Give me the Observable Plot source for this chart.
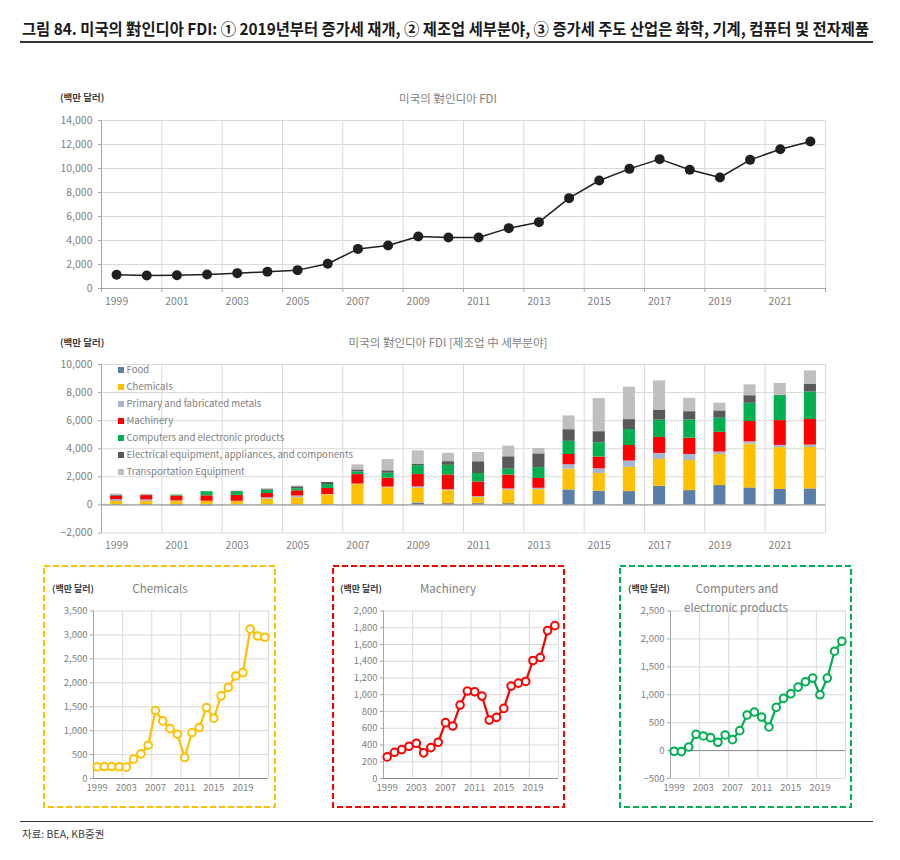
<!DOCTYPE html>
<html><head><meta charset="utf-8">
<script src="https://cdn.jsdelivr.net/npm/d3@7"></script>
<script src="https://cdn.jsdelivr.net/npm/@observablehq/plot@0.6"></script>
<style>
html,body{margin:0;padding:0;background:#fff;}
body{font-family:"Noto Sans CJK KR","Noto Sans",sans-serif;}
#root{position:relative;width:900px;height:860px;overflow:hidden;background:#fff;}
</style>
</head><body><div id="root"></div>
<script>
// ---------------- DATA ----------------
const years = [1999,2000,2001,2002,2003,2004,2005,2006,2007,2008,2009,2010,2011,2012,2013,2014,2015,2016,2017,2018,2019,2020,2021,2022];
const totalFDI = [1150,1080,1110,1170,1280,1390,1530,2060,3300,3580,4330,4250,4250,5030,5530,7530,9000,9970,10780,9890,9250,10720,11610,12250];
const food       = [0,0,0,0,0,0,0,20,30,20,140,90,90,90,20,1070,980,950,1330,1020,1380,1210,1100,1140];
const chemicals  = [244,250,250,244,237,404,515,696,1420,1204,1044,926,438,960,1065,1482,1260,1726,1907,2143,2213,3125,2978,2951];
const metals     = [120,100,40,20,20,100,120,20,40,50,100,70,70,90,100,310,330,450,430,430,170,160,160,170];
const machinery  = [258,313,345,385,421,306,369,433,667,627,877,1044,1036,984,698,730,837,1103,1139,1159,1409,1444,1766,1825];
const computers  = [-12,-18,65,292,262,232,149,280,196,357,637,690,601,423,774,935,1018,1137,1232,1298,1000,1298,1780,1958];
const electrical = [60,40,0,0,20,50,140,150,140,170,100,260,840,880,980,830,790,710,720,590,520,540,20,550];
const transport  = [100,60,-100,-120,40,60,50,0,360,800,950,600,660,760,380,980,2360,2310,2070,950,550,770,850,950];

const seriesNames = ["Food","Chemicals","Primary and fabricated metals","Machinery","Computers and electronic products","Electrical equipment, appliances, and components","Transportation Equipment"];
const seriesValues = [food, chemicals, metals, machinery, computers, electrical, transport];
const seriesColors = ["#5b7ea9","#ffc000","#a5b7d1","#ff0000","#00b050","#595959","#bfbfbf"];

const yTicksTotal  = [0,2000,4000,6000,8000,10000,12000,14000];
const yTicksSector = [-2000,0,2000,4000,6000,8000,10000];
const yTicksChem   = [0,500,1000,1500,2000,2500,3000,3500];
const yTicksMach   = [0,200,400,600,800,1000,1200,1400,1600,1800,2000];
const yTicksComp   = [-500,0,500,1000,1500,2000,2500];
const xLabelsWide  = [1999,2001,2003,2005,2007,2009,2011,2013,2015,2017,2019,2021];
const xLabelsSmall = [1999,2003,2007,2011,2015,2019];

const titleText = "그림 84. 미국의 對인디아 FDI: ① 2019년부터 증가세 재개, ② 제조업 세부분야, ③ 증가세 주도 산업은 화학, 기계, 컴퓨터 및 전자제품";
const unitText = "(백만 달러)";
const topTitle = "미국의 對인디아 FDI";
const midTitle = "미국의 對인디아 FDI [제조업 中 세부분야]";
const sourceText = "자료: BEA, KB증권";

// ---------------- HELPERS ----------------
const root = document.getElementById("root");
const FONT = "'Noto Sans CJK KR','Noto Sans',sans-serif";
const GRID = "#d9d9d9", AXIS = "#a6a6a6", LABEL = "#7f7f7f";

function txt(s, x, yc, {size = 10, color = "#404040", weight = 400, anchor = "start"} = {}) {
  const d = document.createElement("div");
  d.textContent = s;
  const lh = Math.round(size * 1.4);
  Object.assign(d.style, {position: "absolute", left: x + "px", top: (yc - lh / 2) + "px",
    fontSize: size + "px", lineHeight: lh + "px", color, fontWeight: weight, whiteSpace: "nowrap", fontFamily: FONT});
  if (anchor === "middle") d.style.transform = "translateX(-50%)";
  root.appendChild(d);
  return d;
}
function place(svg, x, y) {
  svg.style.position = "absolute"; svg.style.left = x + "px"; svg.style.top = y + "px";
  root.appendChild(svg);
}
const yearTable = years.map((year, i) => ({year, total: totalFDI[i]}));
const step = (n) => years.filter((y, i) => i % n === 0).map(y => y - 0.5).concat([years[years.length - 1] + 0.5]);
const xMin = years[0] - 0.5, xMax = years[years.length - 1] + 0.5;
const yearFmt = d => String(d);

// ---------------- TOP CHART ----------------
const topPlot = Plot.plot({
  width: 860, height: 205, marginLeft: 101, marginRight: 35, marginTop: 10, marginBottom: 27,
  style: {fontFamily: FONT, fontSize: "10px", background: "transparent", overflow: "visible"},
  x: {domain: [xMin, xMax], label: null},
  y: {domain: [yTicksTotal[0], yTicksTotal[yTicksTotal.length - 1]], label: null},
  marks: [
    Plot.gridY(yTicksTotal, {stroke: GRID, strokeOpacity: 1}),
    Plot.ruleX(step(2), {stroke: GRID}),
    Plot.ruleX([xMin], {stroke: AXIS}),
    Plot.ruleY([0], {stroke: AXIS}),
    Plot.axisY(yTicksTotal, {tickSize: 3, tickPadding: 6, tickFormat: d3.format(","), fill: LABEL, stroke: AXIS, fontSize: 10.5, label: null}),
    Plot.axisX(step(2), {tickSize: 4, tickFormat: () => "", stroke: AXIS, label: null}),
    Plot.axisX(xLabelsWide, {tickSize: 0, tickPadding: 9, tickFormat: yearFmt, fill: LABEL, fontSize: 10.5, label: null}),
    Plot.line(yearTable, {x: "year", y: "total", stroke: "#1f1f1f", strokeWidth: 1.5}),
    Plot.dot(yearTable, {x: "year", y: "total", r: 5, fill: "#1f1f1f"})
  ]
});
place(topPlot, 0, 110);

// ---------------- MIDDLE CHART (stacked) ----------------
const barRows = [];
seriesNames.forEach((s, k) => years.forEach((year, i) => barRows.push({year, series: s, value: seriesValues[k][i]})));

const midPlot = Plot.plot({
  width: 860, height: 200, marginLeft: 101, marginRight: 35, marginTop: 10, marginBottom: 21.5,
  style: {fontFamily: FONT, fontSize: "10px", background: "transparent", overflow: "visible"},
  x: {domain: [xMin, xMax], label: null},
  y: {domain: [yTicksSector[0], yTicksSector[yTicksSector.length - 1]], label: null},
  color: {domain: seriesNames, range: seriesColors},
  marks: [
    Plot.gridY(yTicksSector, {stroke: GRID, strokeOpacity: 1}),
    Plot.ruleX(step(2), {stroke: GRID}),
    Plot.rectY(barRows, {x1: d => d.year - 0.2, x2: d => d.year + 0.2, y: "value", fill: "series"}),
    Plot.ruleX([xMin], {stroke: AXIS}),
    Plot.ruleY([0], {stroke: "#8c8c8c"}),
    Plot.axisY(yTicksSector, {tickSize: 3, tickPadding: 6, tickFormat: d3.format(","), fill: LABEL, stroke: AXIS, fontSize: 10.5, label: null}),
    Plot.axisX(xLabelsWide, {tickSize: 0, tickPadding: 9, tickFormat: yearFmt, fill: LABEL, fontSize: 10.5, label: null})
  ]
});
place(midPlot, 0, 354);

// ---------------- SMALL PANELS ----------------
function panel(values, color, yTicks) {
  const rows = years.map((year, i) => ({year, value: values[i]}));
  return Plot.plot({
    width: 290, height: 200, marginLeft: 93, marginRight: 22, marginTop: 10.5, marginBottom: 22,
    style: {fontFamily: FONT, fontSize: "9.5px", background: "transparent", overflow: "visible"},
    x: {domain: [xMin, xMax], label: null},
    y: {domain: [yTicks[0], yTicks[yTicks.length - 1]], label: null},
    marks: [
      Plot.gridY(yTicks, {stroke: GRID, strokeOpacity: 1}),
      Plot.ruleX(step(4), {stroke: GRID}),
      Plot.ruleX([xMin], {stroke: AXIS}),
      Plot.ruleY([0], {stroke: "#8c8c8c"}),
      Plot.axisY(yTicks, {tickSize: 3, tickPadding: 3, tickFormat: d3.format(","), fill: LABEL, stroke: AXIS, fontSize: 9.5, label: null}),
      Plot.axisX(xLabelsSmall, {tickSize: 0, tickPadding: 6, tickFormat: yearFmt, fill: LABEL, fontSize: 9.5, label: null}),
      Plot.line(rows, {x: "year", y: "value", stroke: color, strokeWidth: 2.2}),
      Plot.dot(rows, {x: "year", y: "value", r: 3.8, fill: "#fff", stroke: color, strokeWidth: 2})
    ]
  });
}
place(panel(chemicals, seriesColors[1], yTicksChem), 0, 600);
place(panel(machinery, seriesColors[3], yTicksMach), 290, 600);
place(panel(computers, seriesColors[4], yTicksComp), 577, 600);

// dashed frames
const ns = "http://www.w3.org/2000/svg";
const frame = document.createElementNS(ns, "svg");
frame.setAttribute("width", 900); frame.setAttribute("height", 860);
Object.assign(frame.style, {position: "absolute", left: 0, top: 0, pointerEvents: "none"});
[[44, "#ffc000"], [333, "#ff0000"], [620, "#00b050"]].forEach(([x, c]) => {
  const r = document.createElementNS(ns, "rect");
  r.setAttribute("x", x); r.setAttribute("y", 566); r.setAttribute("width", 231); r.setAttribute("height", 241);
  r.setAttribute("fill", "none"); r.setAttribute("stroke", c); r.setAttribute("stroke-width", 2);
  r.setAttribute("stroke-dasharray", "6 3");
  frame.appendChild(r);
});
root.appendChild(frame);

// ---------------- TEXT ----------------
const t = txt(titleText, 22, 28, {size: 16, color: "#1a1a1a", weight: 700});
const tw = t.getBoundingClientRect().width;
t.style.transformOrigin = "0 50%";
t.style.transform = `scaleX(${847 / tw})`;

const line1 = document.createElement("div");
Object.assign(line1.style, {position: "absolute", left: "20px", top: "41px", width: "853px", height: "1.5px", background: "#333"});
root.appendChild(line1);
const line2 = document.createElement("div");
Object.assign(line2.style, {position: "absolute", left: "20px", top: "821px", width: "853px", height: "1px", background: "#333"});
root.appendChild(line2);
txt(sourceText, 22, 833, {size: 10.5, color: "#404040"});

txt(unitText, 60, 97, {size: 9.5, color: "#404040", weight: 700});
txt(topTitle, 448, 98, {size: 11.5, color: LABEL, anchor: "middle"});
txt(unitText, 60, 342, {size: 9.5, color: "#404040", weight: 700});
txt(midTitle, 448, 342, {size: 11.5, color: LABEL, anchor: "middle"});

// legend
seriesNames.forEach((s, k) => {
  const yc = 369.5 + k * 17;
  const sq = document.createElement("div");
  Object.assign(sq.style, {position: "absolute", left: "118px", top: (yc - 3) + "px", width: "6px", height: "6px", background: seriesColors[k]});
  root.appendChild(sq);
  txt(s, 126.5, yc, {size: 9.6, color: LABEL});
});

// panel labels
txt(unitText, 52, 588, {size: 9, color: "#404040", weight: 700});
txt("Chemicals", 160, 588, {size: 11.5, color: LABEL, anchor: "middle"});
txt(unitText, 340, 588, {size: 9, color: "#404040", weight: 700});
txt("Machinery", 448, 588, {size: 11.5, color: LABEL, anchor: "middle"});
txt(unitText, 628, 588, {size: 9, color: "#404040", weight: 700});
txt("Computers and", 737, 588, {size: 11.5, color: LABEL, anchor: "middle"});
txt("electronic products", 736, 607, {size: 11.5, color: LABEL, anchor: "middle"});
</script>
</body></html>
